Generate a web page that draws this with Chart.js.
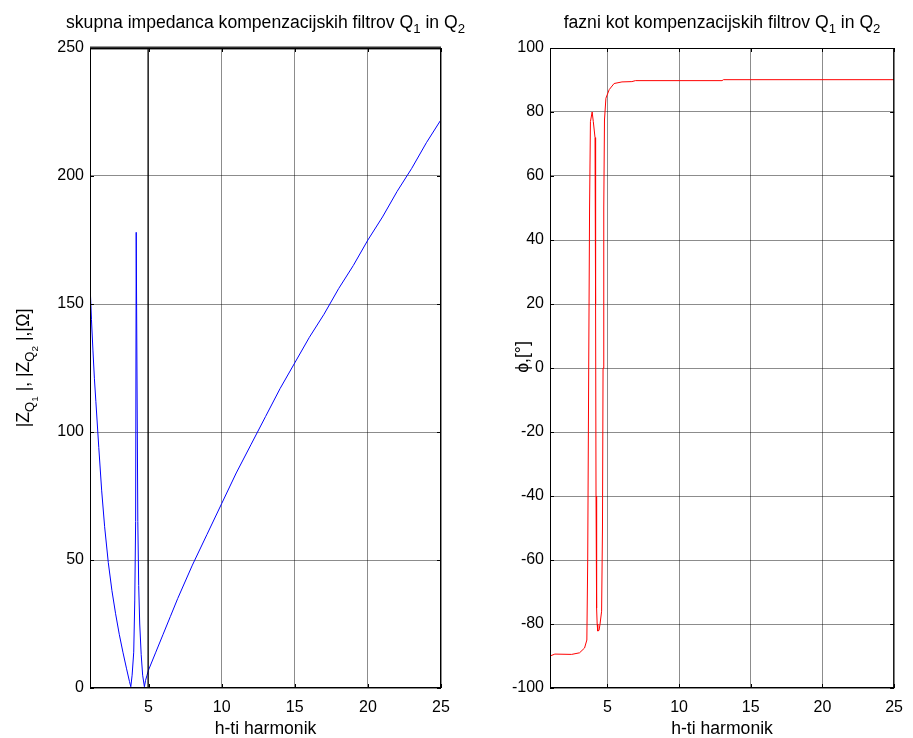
<!DOCTYPE html>
<html>
<head>
<meta charset="utf-8">
<script src="https://cdn.jsdelivr.net/npm/chart.js@4.4.0/dist/chart.umd.min.js"></script>
<style>
  body { margin: 0; background: #fff; }
  #wrap { position: relative; width: 913px; height: 738px; }
  canvas { position: absolute; top: 0; left: 0; }
</style>
</head>
<body>
<div id="wrap">
  <canvas id="impChart" width="913" height="738"></canvas>
  <canvas id="phaseChart" width="913" height="738"></canvas>
</div>
<script>
// podatki - skupna impedanca (h, |Z|)
const impH = [1.0, 1.1, 1.2, 1.3, 1.4, 1.6, 1.8, 2.0, 2.25, 2.5, 2.75, 3.0, 3.25, 3.5, 3.7, 3.79,
  3.88, 3.99, 4.06, 4.12, 4.16, 4.27, 4.33, 4.4, 4.5, 4.6, 4.72, 4.8, 4.9,
  5.0, 5.5, 6, 6.5, 7, 8, 9, 10, 11, 12, 13, 14, 15, 16, 17, 18, 19, 20, 21, 22, 23, 24, 25];
const impZ = [158, 144, 132, 121, 112, 94, 77, 63, 49, 38, 29, 21, 14, 7.5, 2.5, 0.5,
  5, 14, 34, 65, 178, 65, 40, 25, 13, 5, 0.5, 3, 5,
  7, 14, 21, 28, 35, 48, 60, 72, 84, 95, 106, 117, 127, 137, 146, 156, 165, 175, 184, 194, 203, 213, 222];

// crna navpicna crta (izven obsega) in zgornja meja
const offH = [4.97, 4.97];
const offZ = [0, 250];
const topH = [1, 25];
const topZ = [250, 250];

// fazni kot (h, phi)
const phaseH = [1.0, 1.34, 2.51, 3.06, 3.41, 3.57, 3.63, 3.7, 3.76, 3.82, 3.94, 4.02, 4.14,
  4.18, 4.21, 4.25, 4.29, 4.33, 4.42, 4.49, 4.6, 4.66, 4.7, 4.75, 4.8, 4.9, 5.13, 5.47,
  6.02, 6.71, 6.96, 13.0, 13.1, 25];
const phaseDeg = [-90, -89.4, -89.5, -89, -87.5, -85, -60, 0, 50, 77, 80, 77, 72,
  20, -40, -75, -80, -82.2, -82, -80, -76, -50, 0, 50, 77.5, 84.3, 87, 88.9,
  89.4, 89.5, 89.8, 89.8, 90.1, 90.1];

const xTicks = [5, 10, 15, 20, 25];
const impTicks = [0, 50, 100, 150, 200, 250];
const phaseTicks = [-100, -80, -60, -40, -20, 0, 20, 40, 60, 80, 100];

const FONT = '"Liberation Sans", Arial, Helvetica, sans-serif';
const LABEL_SIZE = 17.6;
Chart.defaults.font.family = FONT;
Chart.defaults.font.size = 16;
Chart.defaults.color = '#000';

function pts(xs, ys) {
  return xs.map((x, i) => ({ x: x, y: ys[i] }));
}

// tekst s podpisanimi indeksi: [besedilo, nivo]
function richWidth(ctx, parts, size) {
  let w = 0;
  for (const [t, lvl] of parts) {
    ctx.font = (size * Math.pow(0.75, lvl)) + 'px ' + FONT;
    w += ctx.measureText(t).width;
  }
  return w;
}
function drawRich(ctx, parts, x, y, size) {
  const offs = [0, 0.3, 0.5];
  let cx = x;
  for (const [t, lvl] of parts) {
    ctx.font = (size * Math.pow(0.75, lvl)) + 'px ' + FONT;
    ctx.fillText(t, cx, y + offs[lvl] * size);
    cx += ctx.measureText(t).width;
  }
}

const matlabAxes = {
  id: 'matlabAxes',
  afterDraw(chart, args, opts) {
    const { ctx, chartArea: a } = chart;
    ctx.save();
    ctx.strokeStyle = '#000';
    ctx.lineWidth = 1;
    ctx.strokeRect(a.left + 0.5, a.top + 0.5, a.right - a.left - 1, a.bottom - a.top - 1);
    // notranje kljukice
    const xs = chart.scales.x, ys = chart.scales.y;
    ctx.beginPath();
    xTicks.forEach(v => {
      const px = Math.round(xs.getPixelForValue(v)) + 0.5;
      ctx.moveTo(px, a.bottom); ctx.lineTo(px, a.bottom - 4);
      ctx.moveTo(px, a.top); ctx.lineTo(px, a.top + 4);
    });
    ys.ticks.forEach(t => {
      const py = Math.round(ys.getPixelForValue(t.value)) + 0.5;
      ctx.moveTo(a.left, py); ctx.lineTo(a.left + 4, py);
      ctx.moveTo(a.right, py); ctx.lineTo(a.right - 4, py);
    });
    ctx.stroke();

    ctx.fillStyle = '#000';
    ctx.textBaseline = 'alphabetic';
    const cx = (a.left + a.right) / 2;
    // naslov, centriran nad osmi
    const tw = richWidth(ctx, opts.title, LABEL_SIZE);
    drawRich(ctx, opts.title, cx - tw / 2, 28, LABEL_SIZE);
    // x os
    ctx.font = LABEL_SIZE + 'px ' + FONT;
    ctx.textAlign = 'center';
    ctx.fillText('h-ti harmonik', cx, 734);
    ctx.textAlign = 'left';
    // y os
    ctx.translate(opts.yLabelX, opts.yLabelY);
    ctx.rotate(-Math.PI / 2);
    const yw = richWidth(ctx, opts.yLabel, LABEL_SIZE);
    drawRich(ctx, opts.yLabel, -yw / 2, 0, LABEL_SIZE);
    ctx.restore();
  }
};

function axesOptions(yMin, yMax, yTicks, padLeft, padRight, plugin) {
  return {
    responsive: false,
    animation: false,
    layout: { padding: { left: padLeft, right: padRight, top: 48, bottom: 0 } },
    plugins: {
      legend: { display: false },
      tooltip: { enabled: false },
      matlabAxes: plugin
    },
    scales: {
      x: {
        type: 'linear', min: 1, max: 25,
        afterBuildTicks: s => { s.ticks = xTicks.map(v => ({ value: v })); },
        afterFit: s => { s.height = 50; },
        grid: { color: 'rgba(0,0,0,0.45)', drawTicks: false },
        border: { display: false },
        ticks: { padding: 10, maxRotation: 0, autoSkip: false }
      },
      y: {
        min: yMin, max: yMax,
        afterBuildTicks: s => { s.ticks = yTicks.map(v => ({ value: v })); },
        afterFit: s => { s.width = 90; },
        grid: { color: 'rgba(0,0,0,0.45)', drawTicks: false },
        border: { display: false },
        ticks: { padding: 6, autoSkip: false }
      }
    }
  };
}

new Chart(document.getElementById('impChart'), {
  type: 'line',
  data: {
    datasets: [
      { data: pts(topH, topZ), borderColor: '#333', borderWidth: 3, pointRadius: 0, clip: false },
      { data: pts(offH, offZ), borderColor: '#000', borderWidth: 1.2, pointRadius: 0 },
      { data: pts(impH, impZ), borderColor: '#0000ff', borderWidth: 1, pointRadius: 0, tension: 0 }
    ]
  },
  options: axesOptions(0, 250, impTicks, 0, 472, {
    title: [['skupna impedanca kompenzacijskih filtrov Q', 0], ['1', 1], [' in Q', 0], ['2', 1]],
    yLabel: [['|Z', 0], ['Q', 1], ['1', 2], [' |, |Z', 0], ['Q', 1], ['2', 2], [' |,[Ω]', 0]],
    yLabelX: 29, yLabelY: 368
  }),
  plugins: [matlabAxes]
});

new Chart(document.getElementById('phaseChart'), {
  type: 'line',
  data: {
    datasets: [
      { data: pts(phaseH, phaseDeg), borderColor: '#ff0000', borderWidth: 1, pointRadius: 0, tension: 0 }
    ]
  },
  options: axesOptions(-100, 100, phaseTicks, 460, 14, {
    title: [['fazni kot kompenzacijskih filtrov Q', 0], ['1', 1], [' in Q', 0], ['2', 1]],
    yLabel: [['ϕ,[°]', 0]],
    yLabelX: 528, yLabelY: 357
  }),
  plugins: [matlabAxes]
});
</script>
</body>
</html>
